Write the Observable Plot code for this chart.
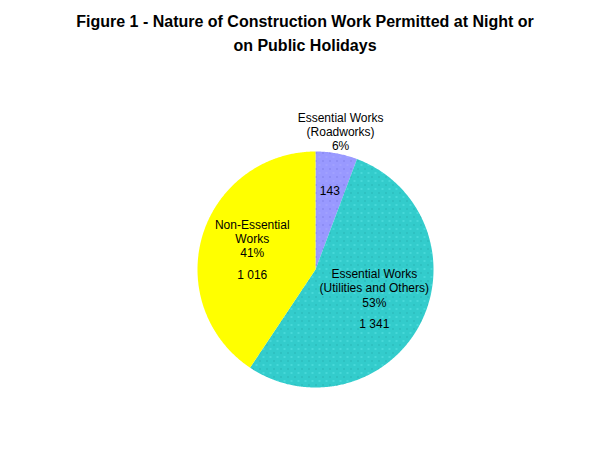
<!DOCTYPE html>
<html>
<head>
<meta charset="utf-8">
<script src="https://cdn.jsdelivr.net/npm/d3@7"></script>
<script src="https://cdn.jsdelivr.net/npm/@observablehq/plot@0.6"></script>
<style>
  html, body { margin: 0; padding: 0; background: #fff; }
  #title { width: 600px; height: 80px; box-sizing: border-box; padding-top: 10px; padding-left: 10px;
    font-family: "Liberation Sans", Arial, sans-serif; font-weight: bold; font-size: 16px; line-height: 24px;
    text-align: center; color: #000; }
  #chart svg { display: block; }
</style>
</head>
<body>
<div id="title">Figure 1 - Nature of Construction Work Permitted at Night or<br>on Public Holidays</div>
<div id="chart"></div>
<script>
const categories = ["Essential Works (Roadworks)", "Essential Works (Utilities and Others)", "Non-Essential Works"];
const nameLabels = ["Essential Works\n(Roadworks)", "Essential Works\n(Utilities and Others)", "Non-Essential\nWorks"];
const values = [143, 1341, 1016];
const valueLabels = ["143", "1 341", "1 016"];
const percentLabels = ["6%", "53%", "41%"];
const colors = ["#9999FF", "#33CCCC", "#FFFF00"];
const patterns = ["url(#dotsLav)", "url(#dotsTeal)", null];

const rows = categories.map((key, i) => ({key, value: values[i], name: nameLabels[i], pct: percentLabels[i], vlab: valueLabels[i], pattern: patterns[i]}));
const total = d3.sum(values);
const arcs = d3.pie().sort(null).value(d => d.value)(rows);

// polygon outline of each slice (unit radius), angle 0 at 12 o'clock, clockwise
const pts = [];
arcs.forEach(a => {
  const n = Math.max(2, Math.ceil((a.endAngle - a.startAngle) / (Math.PI / 360)));
  pts.push({key: a.data.key, x: 0, y: 0});
  for (let k = 0; k <= n; k++) {
    const t = a.startAngle + (a.endAngle - a.startAngle) * k / n;
    pts.push({key: a.data.key, x: Math.sin(t), y: Math.cos(t)});
  }
  pts.push({key: a.data.key, x: 0, y: 0});
});

const at = (a, r) => {
  const m = (a.startAngle + a.endAngle) / 2;
  return {x: r * Math.sin(m), y: r * Math.cos(m)};
};
const small = arcs.filter(a => a.data.value / total < 0.1);
const big = arcs.filter(a => a.data.value / total >= 0.1);

const outsideLabels = small.map(a => ({...at(a, 1.19), text: a.data.name + "\n" + a.data.pct}));
const insideSmall = small.map(a => ({...at(a, 0.68), text: a.data.vlab}));
const insideNames = big.map(a => ({...at(a, 0.56), text: a.data.name + "\n" + a.data.pct}));
const insideValues = big.map(a => ({...at(a, 0.56), text: a.data.vlab}));

const font = {fontFamily: "'Liberation Sans', Arial, sans-serif", fontSize: 12, fill: "#000", lineHeight: 1.2};

const patternMarks = arcs.filter(a => a.data.pattern).map(a =>
  Plot.line(pts.filter(p => p.key === a.data.key), {x: "x", y: "y", fill: a.data.pattern, stroke: "none", curve: "linear"})
);

const chart = Plot.plot({
  width: 600,
  height: 373,
  marginLeft: 197,
  marginRight: 167,
  marginTop: 71,
  marginBottom: 66,
  x: {domain: [-1, 1], axis: null},
  y: {domain: [-1, 1], axis: null},
  color: {domain: categories, range: colors},
  style: {background: "#fff"},
  marks: [
    Plot.line(pts, {x: "x", y: "y", z: "key", fill: "key", stroke: "none", curve: "linear"}),
    ...patternMarks,
    Plot.text(outsideLabels, {x: "x", y: "y", text: "text", ...font}),
    Plot.text(insideSmall, {x: "x", y: "y", text: "text", ...font}),
    Plot.text(insideNames, {x: "x", y: "y", text: "text", dy: -12, ...font}),
    Plot.text(insideValues, {x: "x", y: "y", text: "text", dy: 24, ...font})
  ]
});

// dotted textures like the original fills
const ns = "http://www.w3.org/2000/svg";
const defs = document.createElementNS(ns, "defs");
defs.innerHTML = `
  <pattern id="dotsTeal" width="7" height="8" patternUnits="userSpaceOnUse">
    <rect x="0" y="0" width="1" height="1" fill="#1E9E9E"/>
    <rect x="3.5" y="4" width="1" height="1" fill="#7FFFFF"/>
  </pattern>
  <pattern id="dotsLav" width="7" height="8" patternUnits="userSpaceOnUse">
    <rect x="0" y="0" width="1" height="1" fill="#6A6AD8"/>
    <rect x="3.5" y="4" width="1" height="1" fill="#B8B8FF"/>
  </pattern>`;
chart.insertBefore(defs, chart.firstChild);
document.getElementById("chart").appendChild(chart);
</script>
</body>
</html>
